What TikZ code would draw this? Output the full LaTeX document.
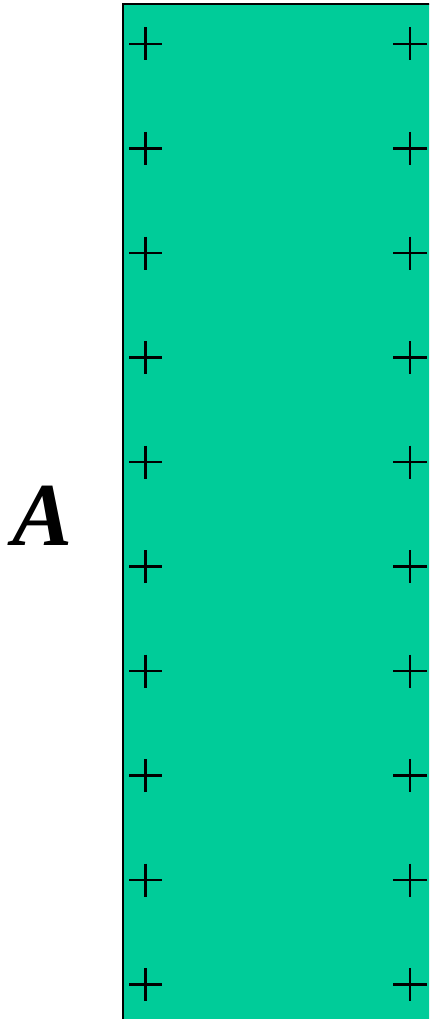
\documentclass[tikz,border=0pt]{standalone}
\usepackage{fontspec}
\setmainfont{Liberation Serif}
\definecolor{plate}{RGB}{0,204,153}
\begin{document}
\begin{tikzpicture}[x=1pt,y=-1pt,
  plus/.style={line width=2.2pt,black},
  lbl/.style={font=\fontsize{90}{90}\selectfont\bfseries\itshape,inner sep=0pt,anchor=base}]
\useasboundingbox (0,0) rectangle (429,1019);
\begin{scope}
\clip (0,0) rectangle (429,1019);
\draw[fill=plate,line width=1.5pt] (123,4) rectangle (445,1035);
\foreach \i in {0,...,9}{
  \pgfmathsetmacro{\yy}{44+104.5*\i}
  \draw[plus] (129,\yy) -- (162,\yy) (145.5,\yy-16.5) -- (145.5,\yy+16.5);
  \draw[plus] (393,\yy) -- (427,\yy) (410,\yy-16.5) -- (410,\yy+16.5);
}
\end{scope}
\node[lbl] (A) at (43,545) {A};
\end{tikzpicture}
\end{document}
